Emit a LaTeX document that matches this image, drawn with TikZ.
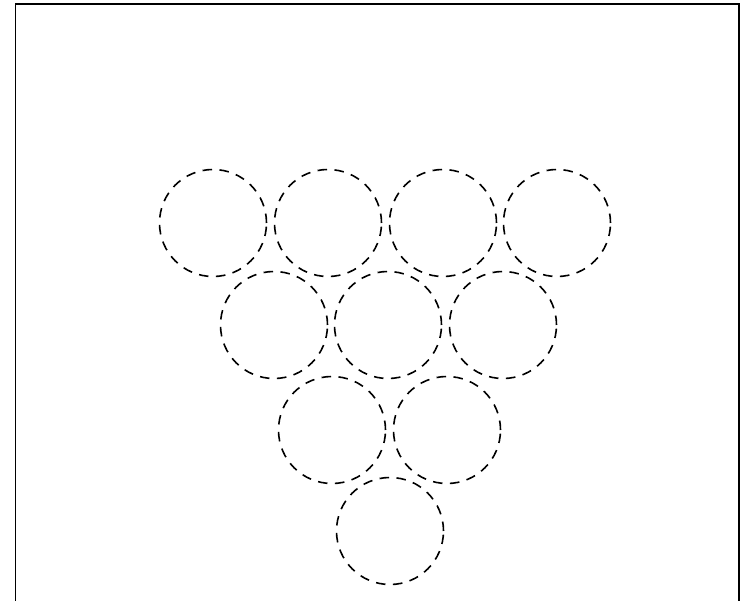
\documentclass[tikz,border=0pt]{standalone}
\usepackage{tikz}
\usetikzlibrary{positioning}

\begin{document}
\begin{tikzpicture}[
  x=1pt, y=-1pt,
  frameline/.style={line width=1.8pt, color=black},
  pin/.style={circle, draw=black, line width=1.6pt, dash pattern=on 9.5pt off 7.5pt, minimum size=107pt, inner sep=0pt}
]
\useasboundingbox (0,0) rectangle (745,601);
\draw[frameline] (15.5,605) -- (15.5,4) -- (739,4) -- (739,605);

% back row
\node[pin] (p1) at (213,223) {};
\node[pin] (p2) at (328,223) {};
\node[pin] (p3) at (443,223) {};
\node[pin] (p4) at (557,223) {};
% second row
\node[pin] (p5) at (274,325) {};
\node[pin] (p6) at (388,325) {};
\node[pin] (p7) at (503,325) {};
% third row
\node[pin] (p8) at (332,430) {};
\node[pin] (p9) at (447,430) {};
% head pin
\node[pin] (p10) at (390,531) {};
\end{tikzpicture}
\end{document}
